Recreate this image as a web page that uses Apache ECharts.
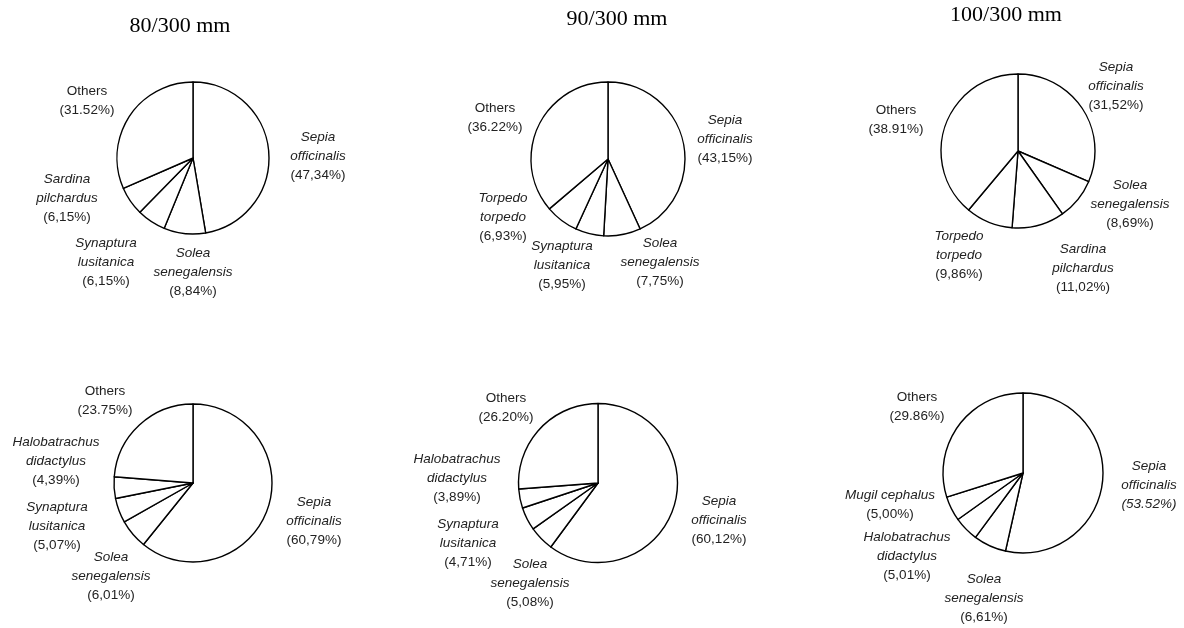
<!DOCTYPE html>
<html>
<head>
<meta charset="utf-8">
<script src="https://cdn.jsdelivr.net/npm/echarts@6/dist/echarts.min.js"></script>
<style>
html,body{margin:0;padding:0;background:#fff;}
#chart{width:1184px;height:628px;}
</style>
</head>
<body>
<div id="chart"></div>
<script>
// ---- Data ----
const meshTitles = ['80/300 mm', '90/300 mm', '100/300 mm'];

// Top row
const top80Names   = ['Sepia\nofficinalis', 'Solea\nsenegalensis', 'Synaptura\nlusitanica', 'Sardina\npilchardus', 'Others'];
const top80Values  = [47.34, 8.84, 6.15, 6.15, 31.52];
const top80Pct     = ['47,34%', '8,84%', '6,15%', '6,15%', '31.52%'];

const top90Names   = ['Sepia\nofficinalis', 'Solea\nsenegalensis', 'Synaptura\nlusitanica', 'Torpedo\ntorpedo', 'Others'];
const top90Values  = [43.15, 7.75, 5.95, 6.93, 36.22];
const top90Pct     = ['43,15%', '7,75%', '5,95%', '6,93%', '36.22%'];

const top100Names  = ['Sepia\nofficinalis', 'Solea\nsenegalensis', 'Sardina\npilchardus', 'Torpedo\ntorpedo', 'Others'];
const top100Values = [31.52, 8.69, 11.02, 9.86, 38.91];
const top100Pct    = ['31,52%', '8,69%', '11,02%', '9,86%', '38.91%'];

// Bottom row
const bot80Names   = ['Sepia\nofficinalis', 'Solea\nsenegalensis', 'Synaptura\nlusitanica', 'Halobatrachus\ndidactylus', 'Others'];
const bot80Values  = [60.79, 6.01, 5.07, 4.39, 23.75];
const bot80Pct     = ['60,79%', '6,01%', '5,07%', '4,39%', '23.75%'];

const bot90Names   = ['Sepia\nofficinalis', 'Solea\nsenegalensis', 'Synaptura\nlusitanica', 'Halobatrachus\ndidactylus', 'Others'];
const bot90Values  = [60.12, 5.08, 4.71, 3.89, 26.20];
const bot90Pct     = ['60,12%', '5,08%', '4,71%', '3,89%', '26.20%'];

const bot100Names  = ['Sepia\nofficinalis', 'Solea\nsenegalensis', 'Halobatrachus\ndidactylus', 'Mugil cephalus', 'Others'];
const bot100Values = [53.52, 6.61, 5.01, 5.00, 29.86];
const bot100Pct    = ['53.52%', '6,61%', '5,01%', '5,00%', '29.86%'];
const bot100ItalicPct = [true, false, false, false, false];

// ---- Layout / style (label offsets from each pie centre, in px) ----
const pies = [
  {names: top80Names,  values: top80Values,  pct: top80Pct,  center: [193, 158], r: 76,
   labelOff: [[125, -2], [0, 114], [-87, 104], [-126, 40], [-106, -57]]},
  {names: top90Names,  values: top90Values,  pct: top90Pct,  center: [608, 159], r: 77,
   labelOff: [[117, -20], [52, 103], [-46, 106], [-105, 58], [-113, -41]]},
  {names: top100Names, values: top100Values, pct: top100Pct, center: [1018, 151], r: 77,
   labelOff: [[98, -65], [112, 53], [65, 117], [-59, 104], [-122, -31]]},
  {names: bot80Names,  values: bot80Values,  pct: bot80Pct,  center: [193, 483], r: 79,
   labelOff: [[121, 38], [-82, 93], [-136, 43], [-137, -22], [-88, -82]]},
  {names: bot90Names,  values: bot90Values,  pct: bot90Pct,  center: [598, 483], r: 79.5,
   labelOff: [[121, 37], [-68, 100], [-130, 60], [-141, -5], [-92, -75]]},
  {names: bot100Names, values: bot100Values, pct: bot100Pct, center: [1023, 473], r: 80, italicPct: bot100ItalicPct,
   labelOff: [[126, 12], [-39, 125], [-116, 83], [-133, 32], [-106, -66]]}
];
const titlePos = [[180, 26], [617, 19], [1006, 15]];
const FONT = '"Liberation Sans", Arial, sans-serif';

function buildSeries(p) {
  const data = p.values.map(function (v, i) {
    const name = p.names[i];
    const nameStyle = name === 'Others' ? 'n' : 'i';
    const lines = name.split('\n').map(function (s) { return '{' + nameStyle + '|' + s + '}'; });
    const pStyle = (p.italicPct && p.italicPct[i]) ? 'i' : 'n';
    lines.push('{' + pStyle + '|(' + p.pct[i] + ')}');
    return {value: v, name: name.replace('\n', ' '), labelText: lines.join('\n')};
  });
  const cx = p.center[0], cy = p.center[1];
  return {
    type: 'pie',
    center: p.center,
    radius: [0, p.r],
    startAngle: 90,
    clockwise: true,
    avoidLabelOverlap: false,
    silent: true,
    itemStyle: {color: '#ffffff', borderColor: '#000000', borderWidth: 1.4},
    emphasis: {disabled: true},
    label: {
      show: true,
      position: 'outside',
      formatter: function (prm) { return prm.data.labelText; },
      color: '#222',
      rich: {
        i: {fontFamily: FONT, fontSize: 13.5, fontStyle: 'italic', lineHeight: 19, color: '#222'},
        n: {fontFamily: FONT, fontSize: 13.5, fontStyle: 'normal', lineHeight: 19, color: '#222'}
      }
    },
    labelLine: {show: false},
    labelLayout: function (prm) {
      const off = p.labelOff[prm.dataIndex];
      return {x: cx + off[0], y: cy + off[1], align: 'center', verticalAlign: 'middle'};
    },
    data: data
  };
}

const chart = echarts.init(document.getElementById('chart'), null, {renderer: 'canvas'});
chart.setOption({
  backgroundColor: '#ffffff',
  animation: false,
  title: meshTitles.map(function (t, i) {
    return {
      text: t,
      left: titlePos[i][0], top: titlePos[i][1],
      textAlign: 'center', textVerticalAlign: 'middle',
      padding: 0,
      textStyle: {fontFamily: '"Liberation Serif", "Times New Roman", serif', fontSize: 22, fontWeight: 'normal', color: '#000'}
    };
  }),
  series: pies.map(buildSeries)
});
</script>
</body>
</html>
